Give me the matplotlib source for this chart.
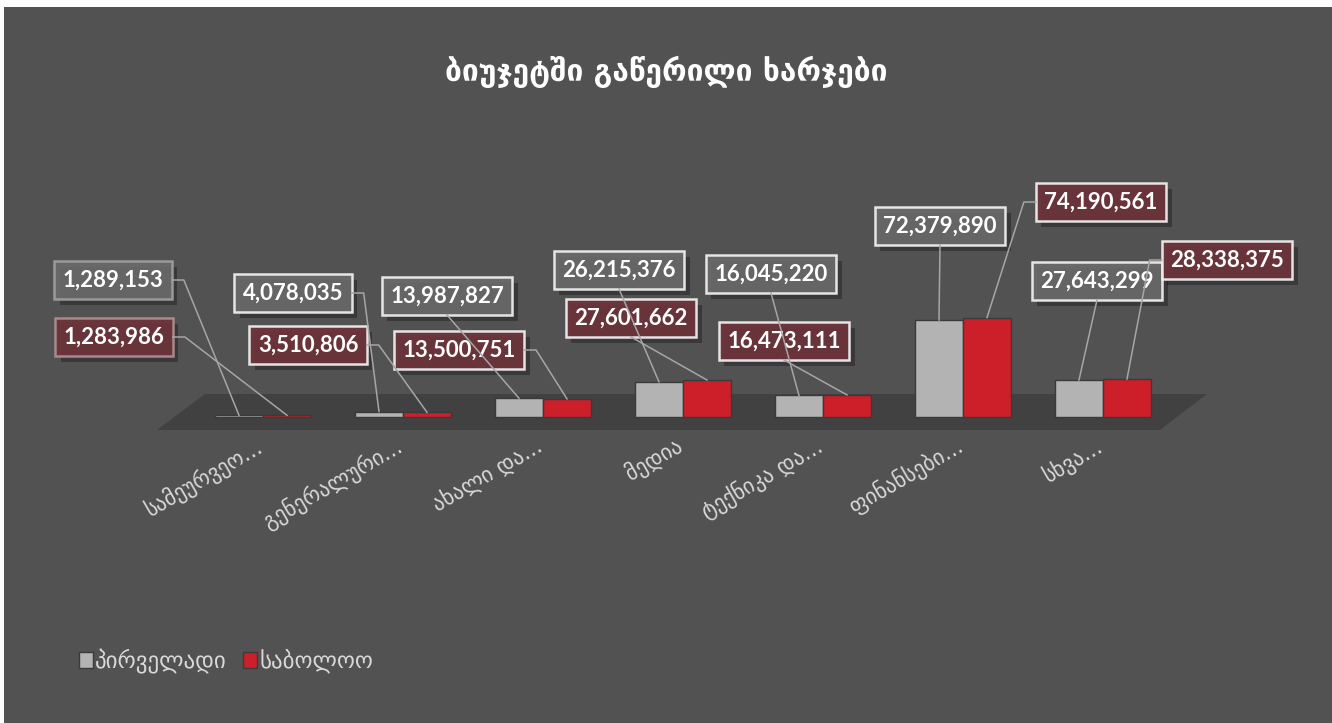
import matplotlib
matplotlib.use("Agg")
import matplotlib.pyplot as plt
from matplotlib.patches import Rectangle, Polygon
from matplotlib.lines import Line2D
import matplotlib.patheffects as pe
import matplotlib.transforms as mtransforms
import numpy as np

# ---------------- data ----------------
title = "ბიუჯეტში გაწერილი ხარჯები"
categories = ["სამეურვეო...", "გენერალური...", "ახალი და...", "მედია",
              "ტექნიკა და...", "ფინანსები...", "სხვა..."]
series_names = ["პირველადი", "საბოლოო"]
initial = [1289153, 4078035, 13987827, 26215376, 16045220, 72379890, 27643299]
final = [1283986, 3510806, 13500751, 27601662, 16473111, 74190561, 28338375]

# ---------------- layout (pixels, top-left origin) ----------------
W, H = 1332, 723
BG = "#525252"
FLOOR = "#414141"
GRAY = "#b3b3b3"
RED = "#cc1f29"
TXT = "#d9d9d9"
# label box centres (pixel coords, top-left origin)
pos_initial = [(113, 280), (293, 293), (447, 296), (619, 270), (771, 274), (940, 226), (1097, 281)]
pos_final = [(114, 337), (308, 345), (459, 350), (631, 318), (784, 341), (1101, 202), (1227, 260)]

fig = plt.figure(figsize=(W / 100, H / 100), dpi=100)
fig.patch.set_facecolor("white")

def fx(p):
    return p / W

def fy(p):
    return (H - p) / H

# chart background
fig.add_artist(Rectangle((fx(4), 0), 1 - fx(4), fy(7), transform=fig.transFigure,
                         facecolor=BG, edgecolor="none", zorder=-10))
# floor (decoration)
floor_px = [(157, 430), (205, 394), (1207, 394), (1160, 430)]
fig.add_artist(Polygon([(fx(a), fy(b)) for a, b in floor_px], closed=True,
                       transform=fig.transFigure, facecolor=FLOOR, edgecolor="none", zorder=-5))

# axes: x centre i -> pixel 263 + 140*i ; y 0 -> pixel 417 ; 1.34 px per million
x_left, x_right = -1.5, 7.5
px_bottom, px_top = 430, 120
scale = 1.34e-6
y_lo = -(px_bottom - 417) / scale
y_hi = (417 - px_top) / scale
ax = fig.add_axes([fx(53), fy(px_bottom), (1313 - 53) / W, (px_bottom - px_top) / H])
ax.set_xlim(x_left, x_right)
ax.set_ylim(y_lo, y_hi)
ax.patch.set_alpha(0)
for s in ax.spines.values():
    s.set_visible(False)
ax.set_yticks([])

x = np.arange(len(categories))
w = 48 / 140
b1 = ax.bar(x - w / 2, initial, width=w, color=GRAY, edgecolor="#3a3a3a", linewidth=1, zorder=3,
            label=series_names[0])
b2 = ax.bar(x + w / 2, final, width=w, color=RED, edgecolor="#3a3a3a", linewidth=1, zorder=3,
            label=series_names[1])

ax.set_xticks(x)
ax.set_xticklabels(categories, rotation=30, ha="right", rotation_mode="anchor",
                   color=TXT, fontsize=15.5, family=["DejaVu Sans"])
ax.tick_params(axis="x", length=0, pad=3)
shift = mtransforms.ScaledTranslation(-8 / 100, 0, fig.dpi_scale_trans)
for lab in ax.get_xticklabels():
    lab.set_transform(lab.get_transform() + shift)

# title
fig.text(0.5, fy(72), title, ha="center", va="center", color="white",
         fontsize=21.5, fontweight="bold", family=["DejaVu Sans"])

# legend
leg = fig.legend(handles=[b1, b2], labels=series_names, loc="center left",
                 bbox_to_anchor=(fx(70), fy(661)), frameon=False, ncol=2,
                 handlelength=0.6, handleheight=0.75,
                 handletextpad=0.1, columnspacing=0.7, borderaxespad=0,
                 prop={"family": "DejaVu Sans", "size": 16.5})
for t in leg.get_texts():
    t.set_color(TXT)

# data labels
labels = []
for xs, vals, poss, face, edge0 in [(x - w / 2, initial, pos_initial, "#6a6a6a", "#a0a0a0"),
                                    (x + w / 2, final, pos_final, "#6e343a", "#b09090")]:
    for i, (xx, v, (cx, cy)) in enumerate(zip(xs, vals, poss)):
        ec = edge0 if i == 0 else "#f2f2f2"
        t = ax.annotate(f"{v:,}", xy=(xx, v), xycoords="data",
                        xytext=(cx, H - cy), textcoords="figure pixels",
                        ha="center", va="center", color="white", fontsize=16,
                        fontweight="bold", family=["Lato", "DejaVu Sans"], zorder=6,
                        bbox=dict(boxstyle="square,pad=0.38", facecolor=face,
                                  edgecolor=ec, linewidth=1.8, alpha=0.92))
        t.get_bbox_patch().set_path_effects([
            pe.SimplePatchShadow(offset=(4, -4), shadow_rgbFace="black", alpha=0.3),
            pe.Normal()])
        labels.append((t, xx, v))

fig.canvas.draw()
renderer = fig.canvas.get_renderer()
for t, xx, v in labels:
    bb = t.get_bbox_patch().get_window_extent(renderer)
    px_, py_ = ax.transData.transform((xx, v))
    ymid = (bb.y0 + bb.y1) / 2
    if px_ > bb.x1 + 20:
        pts = [(bb.x1, ymid), (bb.x1 + 12, ymid), (px_, py_)]
    elif px_ < bb.x0 - 20:
        pts = [(bb.x0, ymid), (bb.x0 - 12, ymid), (px_, py_)]
    else:
        pts = [((bb.x0 + bb.x1) / 2, bb.y0), (px_, py_)]
    xs_, ys_ = zip(*pts)
    fig.add_artist(Line2D(xs_, ys_, transform=None, color="#a6a6a6", linewidth=1.1, zorder=2))

fig.savefig("out.png", dpi=100, facecolor=fig.get_facecolor())
